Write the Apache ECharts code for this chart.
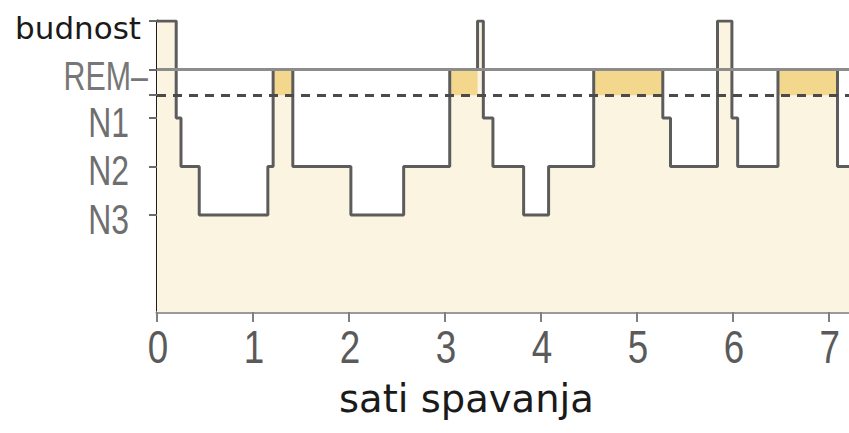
<!DOCTYPE html>
<html>
<head>
<meta charset="utf-8">
<script src="https://cdn.jsdelivr.net/npm/echarts@6/dist/echarts.min.js"></script>
<style>
  html, body { margin: 0; padding: 0; background: #ffffff; }
  #chart { width: 849px; height: 433px; }
</style>
</head>
<body>
<div id="chart"></div>
<script>
// ---- data ----
// time (hours) at which each sleep stage begins
const stageStartHours = [0, 0.20, 0.25, 0.44, 1.155, 1.21, 1.415, 2.02, 2.57, 3.05, 3.34, 3.40, 3.50, 3.82, 4.08, 4.55, 5.27, 5.35, 5.84, 5.99, 6.05, 6.47, 7.09];
const stageNames      = ['budnost', 'N1', 'N2', 'N3', 'N2', 'REM', 'N2', 'N3', 'N2', 'REM', 'budnost', 'N1', 'N2', 'N3', 'N2', 'REM', 'N1', 'N2', 'budnost', 'N1', 'N2', 'REM', 'N2'];
const recordingEndHour = 7.21;

// REM periods (start, end in hours)
const remStartHours = [1.21, 3.05, 4.55, 6.47];
const remEndHours   = [1.415, 3.34, 5.27, 7.09];

// y levels of the stages
const levelNames  = ['N3', 'N2', 'N1', 'REM', 'budnost'];
const levelValues = [2, 3, 4, 5, 6];
const remBandBottom = 4.47;   // dashed line below REM level

// axis tick labels
const xTickHours   = [0, 1, 2, 3, 4, 5, 6, 7];
const xTickLabels  = ['0', '1', '2', '3', '4', '5', '6', '7'];
const yLabelValues = [2, 3, 4, 4.88, 6];
const yLabelTexts  = ['N3', 'N2', 'N1', 'REM–', 'budnost'];
const yTickValues  = [2, 3, 4, 4.47, 5, 6];
const xAxisTitle = 'sati spavanja';

// ---- build ----
const levelOf = name => levelValues[levelNames.indexOf(name)];
const stepData = stageStartHours.map((t, i) => [t, levelOf(stageNames[i])]);
stepData.push([recordingEndHour, levelOf(stageNames[stageNames.length - 1])]);
const remData = remStartHours.map((s, i) => [s, remEndHours[i]]);

const chart = echarts.init(document.getElementById('chart'), null, { renderer: 'svg' });
chart.setOption({
  animation: false,
  backgroundColor: '#ffffff',
  title: {
    text: xAxisTitle,
    left: 334,
    top: 374,
    textStyle: { fontFamily: 'DejaVu Sans', fontSize: 38.5, fontWeight: 'normal', color: '#1a1a1a' }
  },
  grid: { left: 157, right: 0, top: 21, bottom: 121, containLabel: false },
  xAxis: {
    type: 'value',
    min: 0,
    max: recordingEndHour,
    splitLine: { show: false },
    axisLine: { show: true, lineStyle: { color: '#9a9a9a', width: 3 } },
    axisTick: { show: true, customValues: xTickHours, length: 10, lineStyle: { color: '#808080', width: 2 } },
    axisLabel: { show: false, customValues: xTickHours }
  },
  yAxis: {
    type: 'value',
    min: 0,
    max: 6,
    splitLine: { show: false },
    axisLine: { show: true, lineStyle: { color: '#1e1e1e', width: 3 } },
    axisTick: { show: true, customValues: yTickValues, length: 8, lineStyle: { color: '#6a6a6a', width: 2 } },
    axisLabel: { show: false, customValues: yLabelValues }
  },
  series: [
    {
      name: 'fill',
      type: 'line',
      step: 'end',
      data: stepData,
      symbol: 'none',
      lineStyle: { width: 0 },
      areaStyle: { color: '#fbf4e1', opacity: 1 },
      z: 1,
      silent: true
    },
    {
      name: 'REM',
      type: 'custom',
      data: remData,
      z: 2,
      silent: true,
      renderItem: (params, api) => {
        const p1 = api.coord([api.value(0), levelOf('REM')]);
        const p2 = api.coord([api.value(1), remBandBottom]);
        return {
          type: 'rect',
          shape: { x: p1[0], y: p1[1], width: p2[0] - p1[0], height: p2[1] - p1[1] },
          style: { fill: '#f3d78c' }
        };
      }
    },
    {
      name: 'guides',
      type: 'line',
      data: [],
      z: 3,
      silent: true,
      markLine: {
        silent: true,
        symbol: 'none',
        label: { show: false },
        data: [
          { yAxis: levelOf('REM'), lineStyle: { color: '#8c8c8c', width: 3, type: 'solid' } },
          { yAxis: remBandBottom, lineStyle: { color: '#4a4a4a', width: 3, type: [9, 7] } }
        ]
      }
    },
    {
      name: 'hypnogram',
      type: 'line',
      step: 'end',
      data: stepData,
      symbol: 'none',
      lineStyle: { color: '#5c5c5c', width: 3 },
      z: 4,
      silent: true
    }
  ]
});

// ---- axis labels as condensed text, placed through the axes' scales ----
const graphics = [];
const axisX0 = chart.convertToPixel({ xAxisIndex: 0 }, 0);
const axisY0 = chart.convertToPixel({ yAxisIndex: 0 }, 0);

xTickHours.forEach((h, i) => {
  graphics.push({
    type: 'text',
    x: chart.convertToPixel({ xAxisIndex: 0 }, h) + 1,
    y: axisY0 + 35,
    scaleX: 0.8,
    silent: true,
    style: {
      text: xTickLabels[i],
      font: '46px "Liberation Sans", Arial, sans-serif',
      fill: '#5a5a5a',
      align: 'center',
      verticalAlign: 'middle'
    }
  });
});

yLabelValues.forEach((v, i) => {
  const t = yLabelTexts[i];
  const py = chart.convertToPixel({ yAxisIndex: 0 }, v);
  if (t === 'budnost') {
    graphics.push({
      type: 'text', x: axisX0 - 16, y: py + 7, silent: true,
      style: { text: t, font: '31px "DejaVu Sans", sans-serif', fill: '#1a1a1a', align: 'right', verticalAlign: 'middle' }
    });
  } else if (t.indexOf('REM') === 0) {
    graphics.push({
      type: 'text', x: axisX0 - 9, y: py + 1, scaleX: 0.76, silent: true,
      style: { text: t, font: '40px "Liberation Sans", Arial, sans-serif', fill: '#777777', align: 'right', verticalAlign: 'middle' }
    });
  } else {
    graphics.push({
      type: 'text', x: axisX0 - 28, y: py + 4, scaleX: 0.76, silent: true,
      style: { text: t, font: '42px "Liberation Sans", Arial, sans-serif', fill: '#6e6e6e', align: 'right', verticalAlign: 'middle' }
    });
  }
});

chart.setOption({ graphic: { elements: graphics } });
</script>
</body>
</html>
